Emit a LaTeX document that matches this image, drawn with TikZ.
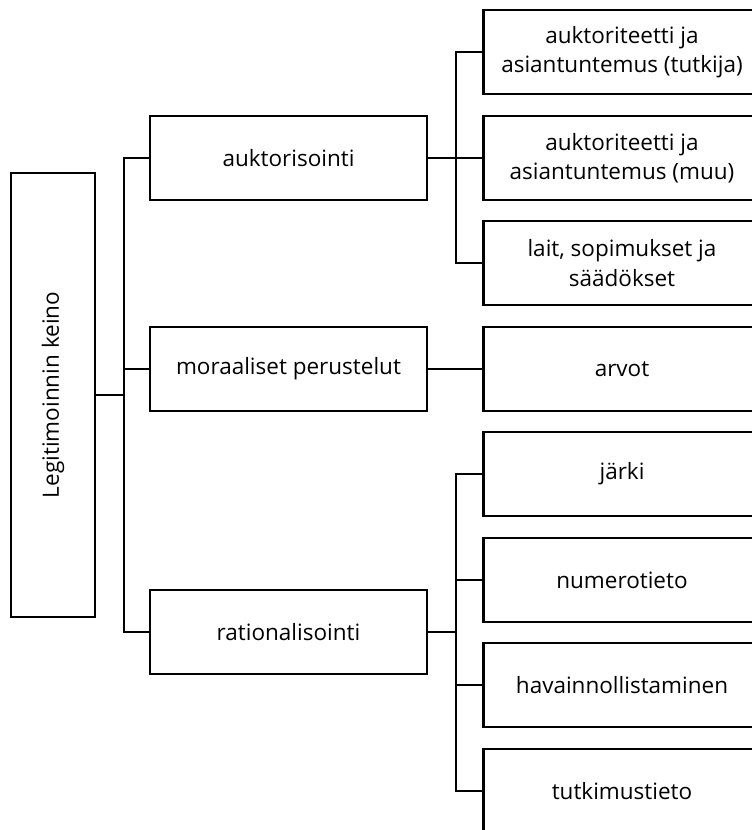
\documentclass[tikz,border=0pt]{standalone}
\usepackage{fontspec}
\setmainfont{Open Sans}
\usepackage{tikz}
\usetikzlibrary{positioning}

\tikzset{
  box/.style={draw, line width=2.6pt, minimum width=277pt, minimum height=84pt,
    align=center, inner sep=2pt, font=\fontsize{22.5}{29.5}\selectfont},
  rootbox/.style={box, minimum width=444pt, minimum height=84pt, rotate=90},
  link/.style={line width=2.2pt},
}

\begin{document}
\begin{tikzpicture}[x=1pt,y=-1pt]
\clip (0,0) rectangle (752,830);
\node[rootbox] (keino) at (53, 395) {Legitimoinnin keino};
% Keinot
\node[box] (auktor) at (288.5, 158) {auktorisointi};
\node[box] (moraal) at (288.5, 369) {moraaliset perustelut};
\node[box] (ration) at (288.5, 632) {rationalisointi};
% Alaluokat
\node[box] (tutkija) at (622, 52) {auktoriteetti ja\\asiantuntemus (tutkija)};
\node[box] (muu) at (622, 158) {auktoriteetti ja\\asiantuntemus (muu)};
\node[box] (lait) at (622, 263) {lait, sopimukset ja\\säädökset};
\node[box] (arvot) at (622, 369) {arvot};
\node[box] (jarki) at (622, 474) {järki};
\node[box] (numero) at (622, 580) {numerotieto};
\node[box] (havain) at (622, 685) {havainnollistaminen};
\node[box] (tutkim) at (622, 791) {tutkimustieto};
%
% Keino -> keinot
\draw[link] (keino.south) -- ++(28,0) |- (auktor.west);
\draw[link] (keino.south) -- ++(28,0) |- (moraal.west);
\draw[link] (keino.south) -- ++(28,0) |- (ration.west);
% auktorisointi
\draw[link] (auktor.east) -- ++(28,0) |- (tutkija.west);
\draw[link] (auktor.east) -- (muu.west);
\draw[link] (auktor.east) -- ++(28,0) |- (lait.west);
% moraaliset perustelut
\draw[link] (moraal.east) -- (arvot.west);
% rationalisointi
\draw[link] (ration.east) -- ++(28,0) |- (jarki.west);
\draw[link] (ration.east) -- ++(28,0) |- (numero.west);
\draw[link] (ration.east) -- ++(28,0) |- (havain.west);
\draw[link] (ration.east) -- ++(28,0) |- (tutkim.west);
\end{tikzpicture}
\end{document}
